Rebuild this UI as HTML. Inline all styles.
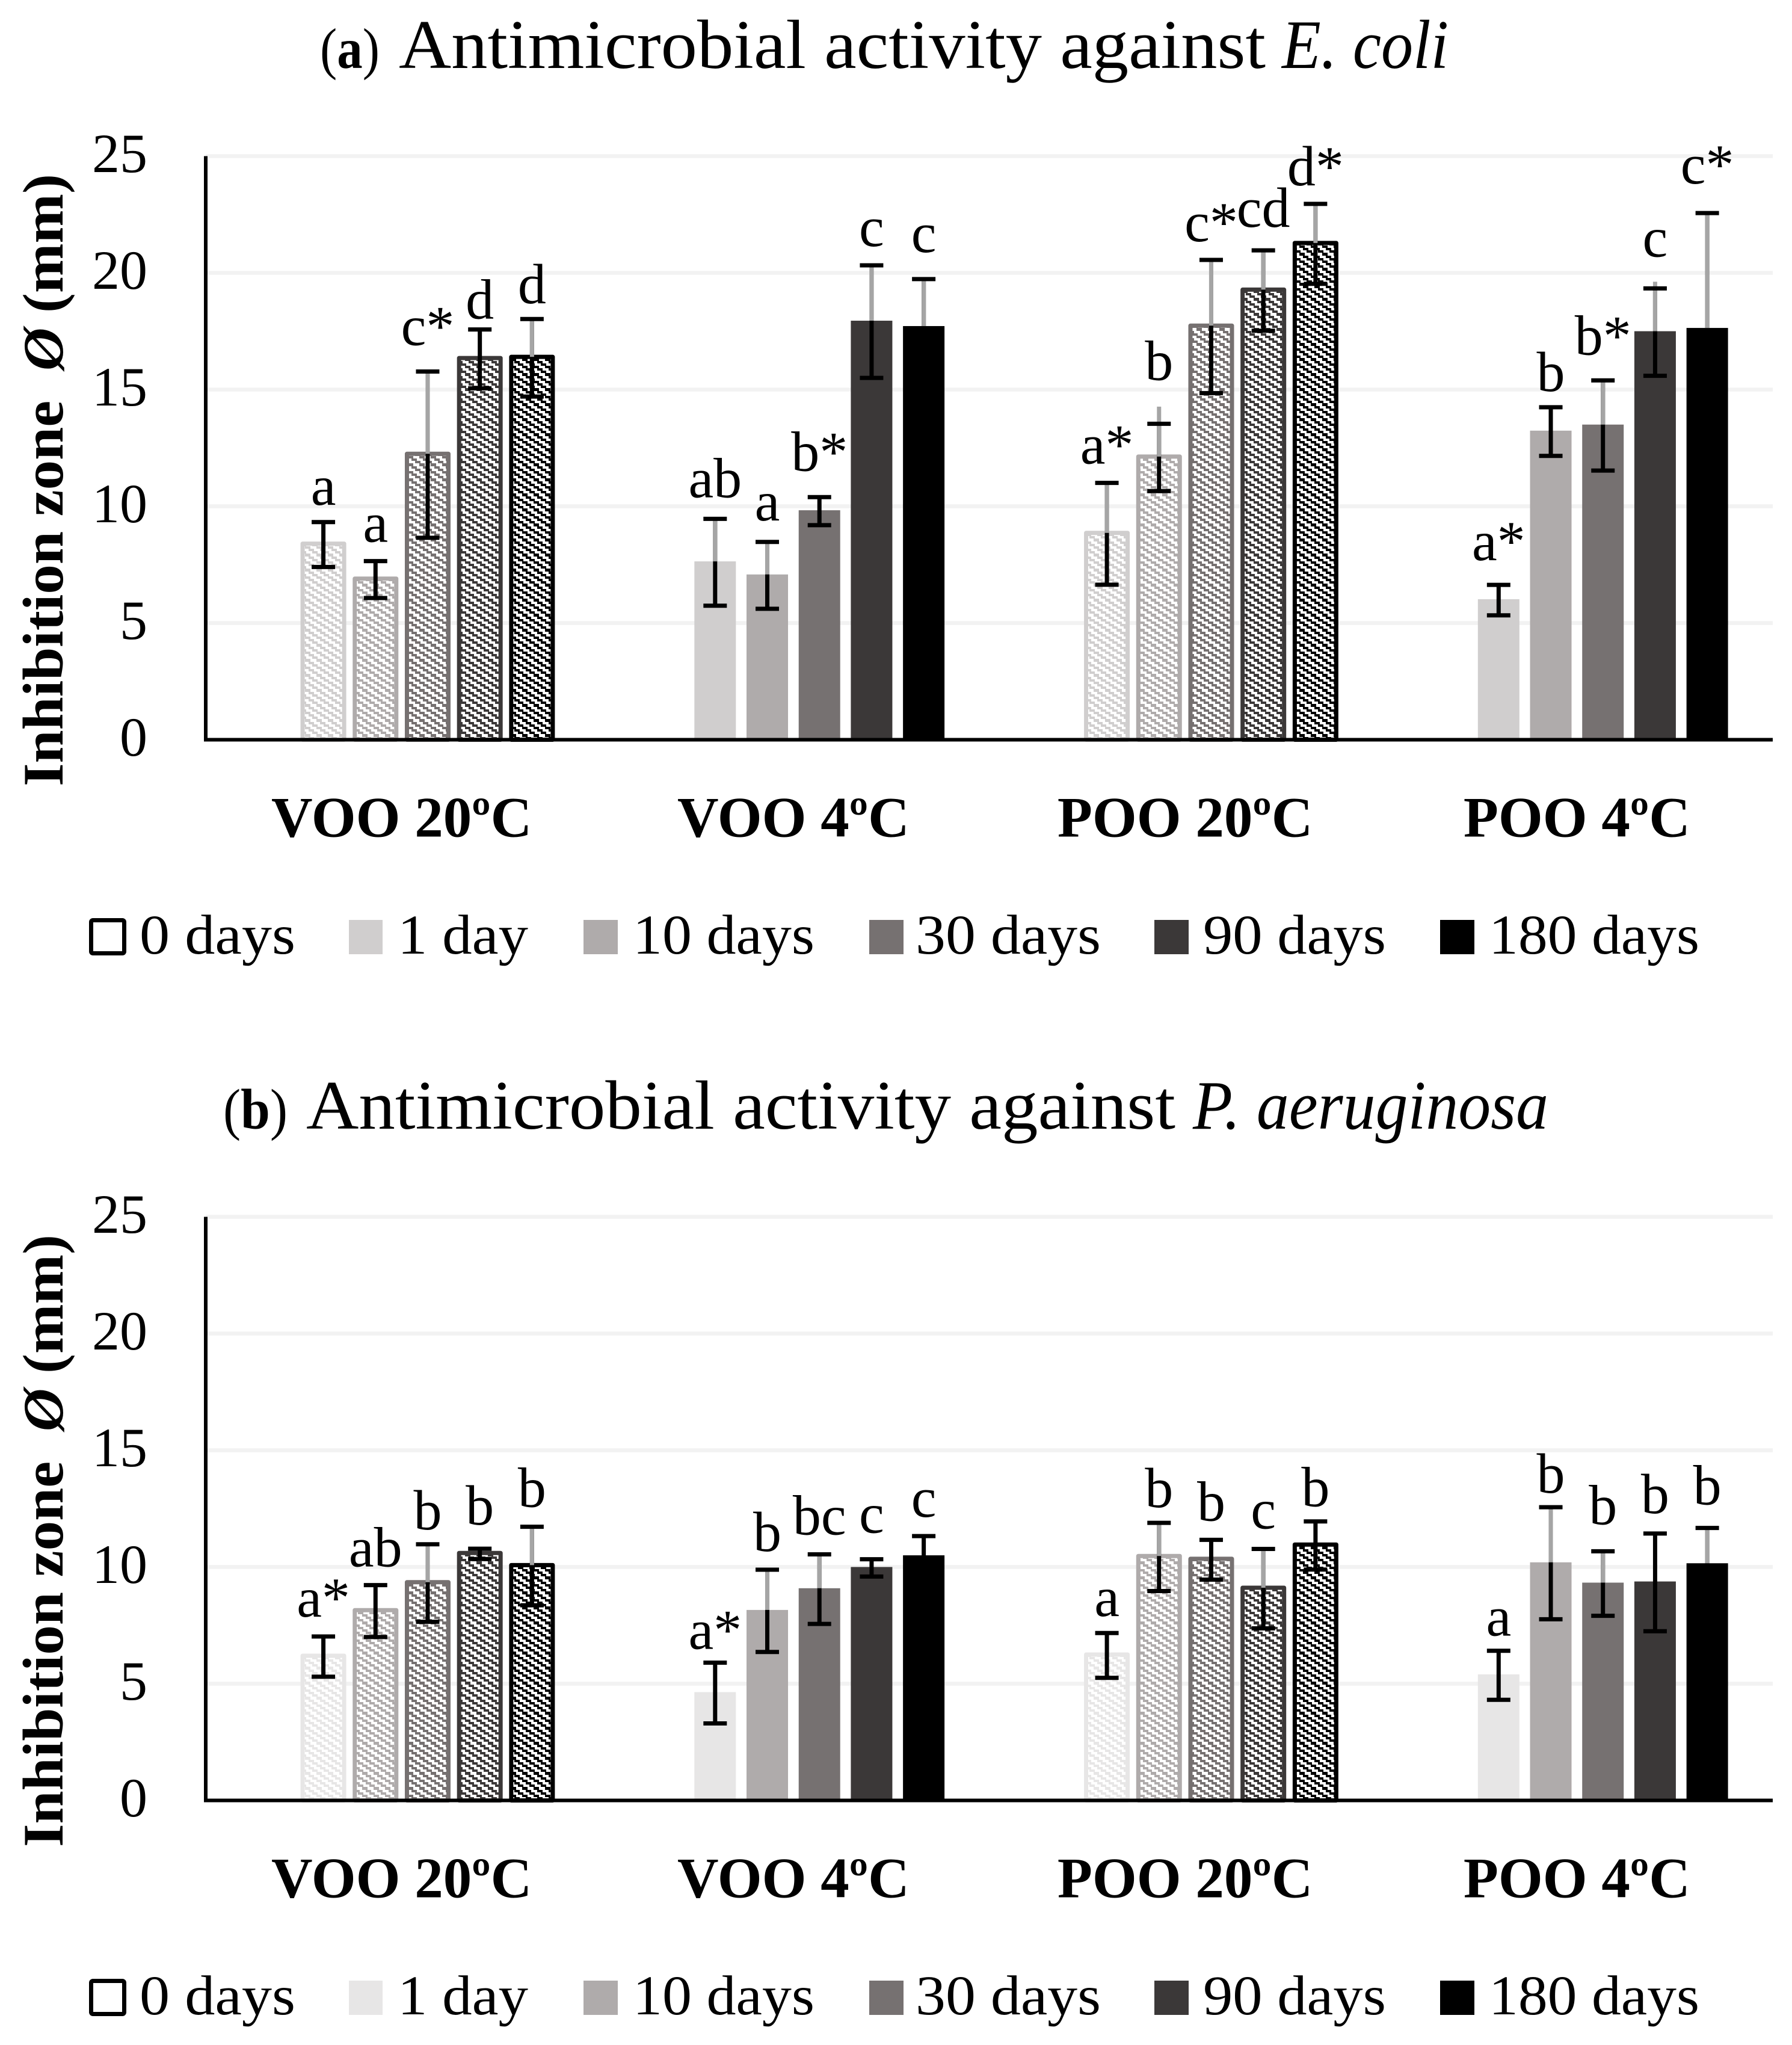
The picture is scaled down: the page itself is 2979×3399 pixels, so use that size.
<!DOCTYPE html>
<html lang="en">
<head>
<meta charset="utf-8">
<title>Antimicrobial activity bar charts</title>
<style>
html,body{margin:0;padding:0;background:#fff;}
svg{display:block;font-family:"Liberation Serif",serif;fill:#000;}
.sig{font-size:94px;text-anchor:middle;}
.leg{font-size:93px;}
.tick{font-size:92px;text-anchor:end;}
.cat{font-size:95px;font-weight:bold;text-anchor:middle;}
.ytitle{font-size:95px;font-weight:bold;}
.t1{font-size:115px;}
.t0{font-size:95px;}
</style>
</head>
<body>
<svg id="fig" xmlns="http://www.w3.org/2000/svg" width="2979" height="3399" viewBox="0 0 2979 3399">
<defs id="defs"></defs>
<rect x="0" y="0" width="2979" height="3399" fill="#fff"></rect>

<!-- Panel A -->
<g id="panelA">
  <text class="t0" x="532" y="113" textLength="99" lengthAdjust="spacingAndGlyphs">(<tspan font-weight="bold">a</tspan>)</text>
  <text class="t1" x="663" y="113" textLength="1441" lengthAdjust="spacingAndGlyphs">Antimicrobial activity against</text>
  <text class="t1" x="2131" y="113" textLength="277" lengthAdjust="spacingAndGlyphs" font-style="italic">E. coli</text>
  <text class="ytitle" transform="translate(104,1307) rotate(-90)" textLength="1018" lengthAdjust="spacingAndGlyphs">Inhibition zone&#160; <tspan font-style="italic">Ø</tspan> (mm)</text>
  <g id="plotA"></g>
  <g class="letters">
    <text class="sig" data-g="0" data-s="0" data-gap="26">a</text>
    <text class="sig" data-g="0" data-s="1" data-gap="29">a</text>
    <text class="sig" data-g="0" data-s="2" data-gap="41">c*</text>
    <text class="sig" data-g="0" data-s="3" data-gap="15">d</text>
    <text class="sig" data-g="0" data-s="4" data-gap="23">d</text>
    <text class="sig" data-g="1" data-s="0" data-gap="33">ab</text>
    <text class="sig" data-g="1" data-s="1" data-gap="33">a</text>
    <text class="sig" data-g="1" data-s="2" data-gap="41">b*</text>
    <text class="sig" data-g="1" data-s="3" data-gap="29">c</text>
    <text class="sig" data-g="1" data-s="4" data-gap="42">c</text>
    <text class="sig" data-g="2" data-s="0" data-gap="29">a*</text>
    <text class="sig" data-g="2" data-s="1" data-gap="70">b</text>
    <text class="sig" data-g="2" data-s="2" data-gap="28">c*</text>
    <text class="sig" data-g="2" data-s="3" data-gap="36">cd</text>
    <text class="sig" data-g="2" data-s="4" data-gap="28">d*</text>
    <text class="sig" data-g="3" data-s="0" data-gap="38">a*</text>
    <text class="sig" data-g="3" data-s="1" data-gap="24">b</text>
    <text class="sig" data-g="3" data-s="2" data-gap="40">b*</text>
    <text class="sig" data-g="3" data-s="3" data-gap="50">c</text>
    <text class="sig" data-g="3" data-s="4" data-gap="46">c*</text>
  </g>
  <g>
    <rect x="151.5" y="1529.5" width="55" height="55" rx="3" fill="#fff" stroke="#000" stroke-width="7"></rect>
    <text class="leg" x="232" y="1585" textLength="259" lengthAdjust="spacingAndGlyphs">0 days</text>
    <rect x="580" y="1529" width="56" height="57" fill="#D0CECE"></rect>
    <text class="leg" x="661" y="1585" textLength="217" lengthAdjust="spacingAndGlyphs">1 day</text>
    <rect x="970" y="1529" width="57" height="57" fill="#AFABAB"></rect>
    <text class="leg" x="1052" y="1585" textLength="302" lengthAdjust="spacingAndGlyphs">10 days</text>
    <rect x="1445" y="1529" width="57" height="57" fill="#767171"></rect>
    <text class="leg" x="1522" y="1585" textLength="308" lengthAdjust="spacingAndGlyphs">30 days</text>
    <rect x="1919" y="1529" width="57" height="57" fill="#3B3838"></rect>
    <text class="leg" x="2000" y="1585" textLength="304" lengthAdjust="spacingAndGlyphs">90 days</text>
    <rect x="2394" y="1529" width="57" height="57" fill="#000000"></rect>
    <text class="leg" x="2475" y="1585" textLength="350" lengthAdjust="spacingAndGlyphs">180 days</text>
  </g>
</g>

<!-- Panel B -->
<g id="panelB">
  <text class="t0" x="371" y="1876" textLength="107" lengthAdjust="spacingAndGlyphs">(<tspan font-weight="bold">b</tspan>)</text>
  <text class="t1" x="509" y="1876" textLength="1445" lengthAdjust="spacingAndGlyphs">Antimicrobial activity against</text>
  <text class="t1" x="1983" y="1876" textLength="591" lengthAdjust="spacingAndGlyphs" font-style="italic">P. aeruginosa</text>
  <text class="ytitle" transform="translate(104,3070) rotate(-90)" textLength="1018" lengthAdjust="spacingAndGlyphs">Inhibition zone&#160; <tspan font-style="italic">Ø</tspan> (mm)</text>
  <g id="plotB"></g>
  <g class="letters">
    <text class="sig" data-g="0" data-s="0" data-gap="30">a*</text>
    <text class="sig" data-g="0" data-s="1" data-gap="28">ab</text>
    <text class="sig" data-g="0" data-s="2" data-gap="22">b</text>
    <text class="sig" data-g="0" data-s="3" data-gap="37">b</text>
    <text class="sig" data-g="0" data-s="4" data-gap="30">b</text>
    <text class="sig" data-g="1" data-s="0" data-gap="20">a*</text>
    <text class="sig" data-g="1" data-s="1" data-gap="28">b</text>
    <text class="sig" data-g="1" data-s="2" data-gap="30">bc</text>
    <text class="sig" data-g="1" data-s="3" data-gap="41">c</text>
    <text class="sig" data-g="1" data-s="4" data-gap="29">c</text>
    <text class="sig" data-g="2" data-s="0" data-gap="25">a</text>
    <text class="sig" data-g="2" data-s="1" data-gap="23">b</text>
    <text class="sig" data-g="2" data-s="2" data-gap="29">b</text>
    <text class="sig" data-g="2" data-s="3" data-gap="31">c</text>
    <text class="sig" data-g="2" data-s="4" data-gap="22">b</text>
    <text class="sig" data-g="3" data-s="0" data-gap="22">a</text>
    <text class="sig" data-g="3" data-s="1" data-gap="21">b</text>
    <text class="sig" data-g="3" data-s="2" data-gap="42">b</text>
    <text class="sig" data-g="3" data-s="3" data-gap="31">b</text>
    <text class="sig" data-g="3" data-s="4" data-gap="36">b</text>
  </g>
  <g>
    <rect x="151.5" y="3292.5" width="55" height="55" rx="3" fill="#fff" stroke="#000" stroke-width="7"></rect>
    <text class="leg" x="232" y="3348" textLength="259" lengthAdjust="spacingAndGlyphs">0 days</text>
    <rect x="580" y="3292" width="56" height="57" fill="#E7E6E6"></rect>
    <text class="leg" x="661" y="3348" textLength="217" lengthAdjust="spacingAndGlyphs">1 day</text>
    <rect x="970" y="3292" width="57" height="57" fill="#AFABAB"></rect>
    <text class="leg" x="1052" y="3348" textLength="302" lengthAdjust="spacingAndGlyphs">10 days</text>
    <rect x="1445" y="3292" width="57" height="57" fill="#767171"></rect>
    <text class="leg" x="1522" y="3348" textLength="308" lengthAdjust="spacingAndGlyphs">30 days</text>
    <rect x="1919" y="3292" width="57" height="57" fill="#3B3838"></rect>
    <text class="leg" x="2000" y="3348" textLength="304" lengthAdjust="spacingAndGlyphs">90 days</text>
    <rect x="2394" y="3292" width="57" height="57" fill="#000000"></rect>
    <text class="leg" x="2475" y="3348" textLength="350" lengthAdjust="spacingAndGlyphs">180 days</text>
  </g>
</g>
</svg>

<script>
// ---- shared categories and ticks ----
var categories = ["VOO 20ºC", "VOO 4ºC", "POO 20ºC", "POO 4ºC"];
var seriesNames = ["1-day", "10-days", "30-days", "90-days", "180-days"];
var yTicks = [0, 5, 10, 15, 20, 25];
var hatchedGroups = [true, false, true, false];

// ---- Panel A: E. coli, mean inhibition zone (mm), one entry per category ----
var day1A = [8.4, 7.64, 8.86, 6.02];
var day10A = [6.9, 7.08, 12.13, 13.24];
var day30A = [12.25, 9.83, 17.74, 13.5];
var day90A = [16.35, 17.95, 19.28, 17.5];
var day180A = [16.4, 17.72, 21.28, 17.64];
// black error bar half-height (mm)
var day1ErrA = [1.0, 1.9, 2.22, 0.69];
var day10ErrA = [0.83, 1.47, 1.48, 1.08];
var day30ErrA = [3.6, 0.64, 2.89, 1.97];
var day90ErrA = [1.3, 2.45, 1.76, 1.91];
var day180ErrA = [1.7, 2.09, 1.75, 5.0];
// grey upper error whisker (mm above the mean, 0 when absent)
var day1UpperA = [0, 1.9, 2.22, 0];
var day10UpperA = [0, 1.47, 2.14, 0];
var day30UpperA = [3.6, 0, 2.89, 1.97];
var day90UpperA = [0, 2.45, 1.76, 2.12];
var day180UpperA = [1.7, 2.09, 1.75, 5.0];

// ---- Panel B: P. aeruginosa ----
var day1B = [6.2, 4.64, 6.25, 5.4];
var day10B = [8.15, 8.16, 10.47, 10.2];
var day30B = [9.35, 9.09, 10.35, 9.33];
var day90B = [10.6, 10.0, 9.11, 9.38];
var day180B = [10.08, 10.5, 10.96, 10.16];
var day1ErrB = [0.9, 1.34, 1.0, 1.09];
var day10ErrB = [1.15, 1.8, 1.5, 2.44];
var day30ErrB = [1.7, 1.53, 0.89, 1.42];
var day90ErrB = [0.26, 0.41, 1.74, 2.13];
var day180ErrB = [1.72, 0.9, 1.07, 1.59];
var day1UpperB = [0, 0, 0, 0];
var day10UpperB = [0, 1.8, 1.5, 2.44];
var day30UpperB = [1.7, 1.53, 0, 1.42];
var day90UpperB = [0, 0, 1.74, 0];
var day180UpperB = [1.72, 0, 0, 1.59];

var NS = "http://www.w3.org/2000/svg";
var PLOT_LEFT = 342, PLOT_RIGHT = 2947, BAR_W = 69, SLOT = 86.7, Y_MAX = 25;

function mk(tag, parent, attrs) {
  var n = document.createElementNS(NS, tag);
  for (var k in attrs) n.setAttribute(k, attrs[k]);
  parent.appendChild(n);
  return n;
}
function xCat(g) {
  return PLOT_LEFT + (PLOT_RIGHT - PLOT_LEFT) / categories.length * (g + 0.5);
}
// slot 0 is the empty "0 days" series, so drawn series start one slot in
function xBar(g, s) {
  return xCat(g) + (s + 1 - 2.5) * SLOT;
}
function makeY(top, base) {
  return function (v) { return base - v / Y_MAX * (base - top); };
}
// stair-stepped wide downward diagonal: integer tile so the steps stay crisp
function hatch(id, color) {
  var defs = document.getElementById("defs");
  var H = 19, V = 25;
  var p = mk("pattern", defs, {id: id, patternUnits: "userSpaceOnUse", x: 0, y: 0, width: H, height: V});
  mk("rect", p, {x: 0, y: 0, width: H, height: V, fill: "#fff"});
  for (var r = 0; r < 6; r++) {
    var x0 = Math.round((r % 3) * H / 3);
    var h = r === 5 ? 5 : 4;
    mk("rect", p, {x: x0, y: r * 4, width: 9, height: h, fill: color});
    mk("rect", p, {x: x0 - H, y: r * 4, width: 9, height: h, fill: color});
  }
}

function drawPanel(key, plotId, top, base, colors, values, errs, uppers) {
  var plot = document.getElementById(plotId);
  var y = makeY(top, base);
  var i, g, s;

  yTicks.forEach(function (t) {
    if (t > 0) {
      var grid = mk("line", plot, {x1: PLOT_LEFT, x2: PLOT_RIGHT, y1: y(t), y2: y(t), stroke: "#F2F2F2", "stroke-width": 6.5});
      
      
    }
    var lab = mk("text", plot, {"class": "tick", x: 245, y: y(t) + 26.5});
    lab.textContent = String(t);
    
    
  });

  for (s = 0; s < colors.length; s++) hatch("hatch" + key + s, colors[s]);

  for (g = 0; g < categories.length; g++) {
    for (s = 0; s < colors.length; s++) {
      var v = values[s][g], cx = xBar(g, s);
      var bar;
      if (hatchedGroups[g]) {
        bar = mk("rect", plot, {x: cx - BAR_W / 2, y: y(v), width: BAR_W, height: y(0) - y(v),
          fill: "url(#hatch" + key + s + ")", stroke: colors[s], "stroke-width": 7, "stroke-linejoin": "round"});
      } else {
        bar = mk("rect", plot, {x: cx - BAR_W / 2, y: y(v), width: BAR_W, height: y(0) - y(v), fill: colors[s]});
      }
      
      
    }
  }

  for (g = 0; g < categories.length; g++) {
    for (s = 0; s < colors.length; s++) {
      var val = values[s][g], e = errs[s][g], up = uppers[s][g], c = xBar(g, s);
      var err = mk("g", plot, {});
      
      
      mk("line", err, {x1: c, x2: c, y1: y(val + e), y2: y(val - e), stroke: "#000", "stroke-width": 7});
      if (up > 0) mk("line", err, {x1: c, x2: c, y1: y(val + up), y2: y(val), stroke: "#A5A5A5", "stroke-width": 7});
      mk("line", err, {x1: c - 19.5, x2: c + 19.5, y1: y(val + e) + 3, y2: y(val + e) + 3, stroke: "#000", "stroke-width": 7});
      mk("line", err, {x1: c - 19.5, x2: c + 19.5, y1: y(val - e), y2: y(val - e), stroke: "#000", "stroke-width": 7});
    }
  }

  var yAxis = mk("line", plot, {x1: PLOT_LEFT, x2: PLOT_LEFT, y1: y(Y_MAX), y2: y(0) + 3, stroke: "#000", "stroke-width": 6});
  
  
  var xAxis = mk("line", plot, {x1: PLOT_LEFT - 3, x2: PLOT_RIGHT, y1: y(0), y2: y(0), stroke: "#000", "stroke-width": 6});
  
  

  categories.forEach(function (name, idx) {
    var t = mk("text", plot, {"class": "cat", x: xCat(idx), y: y(0) + 161});
    t.textContent = name;
    
    
  });

  // place the inline significance letters above each error bar
  var letters = plot.parentNode.querySelectorAll(".letters text");
  for (i = 0; i < letters.length; i++) {
    var L = letters[i];
    var lg = +L.getAttribute("data-g"), ls = +L.getAttribute("data-s"), gap = +L.getAttribute("data-gap");
    L.setAttribute("x", xBar(lg, ls));
    L.setAttribute("y", y(values[ls][lg] + errs[ls][lg]) - gap);
  }
}

drawPanel("A", "plotA", 259.5, 1229.5,
  ["#D0CECE", "#AFABAB", "#767171", "#3B3838", "#000000"],
  [day1A, day10A, day30A, day90A, day180A],
  [day1ErrA, day10ErrA, day30ErrA, day90ErrA, day180ErrA],
  [day1UpperA, day10UpperA, day30UpperA, day90UpperA, day180UpperA]);

drawPanel("B", "plotB", 2022.5, 2992.5,
  ["#E7E6E6", "#AFABAB", "#767171", "#3B3838", "#000000"],
  [day1B, day10B, day30B, day90B, day180B],
  [day1ErrB, day10ErrB, day30ErrB, day90ErrB, day180ErrB],
  [day1UpperB, day10UpperB, day30UpperB, day90UpperB, day180UpperB]);
</script>
</body>
</html>
